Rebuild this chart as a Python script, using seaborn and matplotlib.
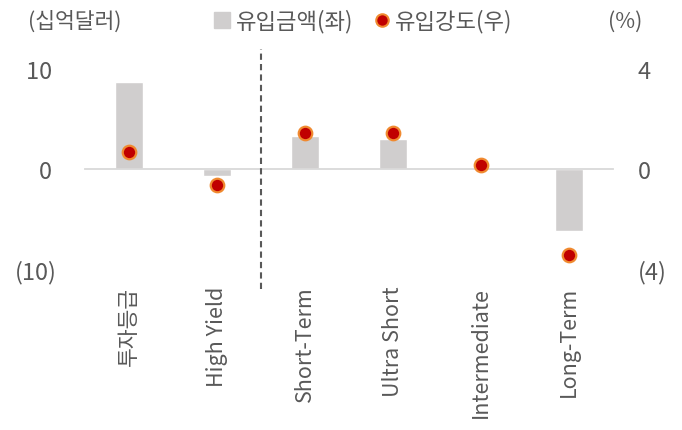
import numpy as np
import pandas as pd
import matplotlib
matplotlib.use('Agg')
import matplotlib.pyplot as plt
import seaborn as sns
from matplotlib.lines import Line2D

# Dados
categorias = ['투자등급', 'High Yield', 'Short-Term', 'Ultra Short', 'Intermediate', 'Long-Term']
fluxo = [8.7, -0.7, 3.3, 3.0, 0.05, -6.2]          # 유입금액(좌), 십억달러
intensidade = [0.67, -0.64, 1.43, 1.43, 0.16, -3.44]  # 유입강도(우), %

df = pd.DataFrame({'cat': categorias, 'fluxo': fluxo, 'intens': intensidade})

sns.set_style('white')
plt.rcParams['font.family'] = ['Noto Sans CJK KR', 'DejaVu Sans']
plt.rcParams['font.weight'] = 'light'

cinza_txt = '#595959'
cor_barra = '#D0CECE'
cor_ponto = '#C00000'
cor_borda = '#F08A30'

fig = plt.figure(figsize=(6.82, 4.31), dpi=100)
ax = fig.add_axes([85 / 682, 1 - 270 / 431, 528 / 682, 200 / 431])

sns.barplot(data=df, x='cat', y='fluxo', color=cor_barra, width=0.32,
            saturation=1, ax=ax, zorder=2)
ax.set_xlim(-0.5, 5.5)
ax.set_ylim(-10, 10)
ax.set_yticks([-10, 0, 10])
ax.set_yticklabels(['(10)', '0 ', '10 '])
ax.set_xlabel('')
ax.set_ylabel('')

for s in ['top', 'right', 'left']:
    ax.spines[s].set_visible(False)
ax.spines['bottom'].set_position(('data', 0))
ax.spines['bottom'].set_color('#D9D9D9')
ax.spines['bottom'].set_linewidth(1.3)

ax.set_xticks(np.arange(-0.5, 6, 1), minor=True)
ax.tick_params(axis='x', which='minor', length=6, width=1.3, color='#D9D9D9', direction='out')
ax.tick_params(axis='x', which='major', length=0, pad=84, labelsize=15.5,
               labelcolor=cinza_txt, rotation=90)
ax.tick_params(axis='y', length=0, pad=20, labelsize=17, labelcolor=cinza_txt)

# linha tracejada separando grupos
ax.axvline(1.5, ymin=-0.1, ymax=1.1, color='#595959', lw=1.5,
           linestyle=(0, (3, 2)), clip_on=False, zorder=3)

ax2 = ax.twinx()
sns.scatterplot(data=df, x='cat', y='intens', ax=ax2, s=95, color=cor_ponto,
                edgecolor=cor_borda, linewidth=1.6, zorder=4)
ax2.set_ylim(-4, 4)
ax2.set_yticks([-4, 0, 4])
ax2.set_yticklabels(['(4)', '0', '4'])
ax2.set_ylabel('')
for s in ax2.spines.values():
    s.set_visible(False)
ax2.tick_params(axis='y', length=0, pad=18, labelsize=17, labelcolor=cinza_txt)

# unidades
fig.text(75 / 682, 1 - 22 / 431, '(십억달러)', ha='center', va='center',
         fontsize=15.5, color=cinza_txt)
fig.text(625 / 682, 1 - 22 / 431, '(%)', ha='center', va='center',
         fontsize=15.5, color=cinza_txt)

# legenda
handles = [
    Line2D([], [], marker='s', linestyle='', color=cor_barra, markersize=11),
    Line2D([], [], marker='o', linestyle='', markerfacecolor=cor_ponto,
           markeredgecolor=cor_borda, markeredgewidth=1.5, markersize=9),
]
leg = fig.legend(handles, ['유입금액(좌)', '유입강도(우)'], loc='center',
                 bbox_to_anchor=(362 / 682, 1 - 22 / 431), ncol=2, frameon=False,
                 fontsize=16, handletextpad=0.1, columnspacing=0.8, handlelength=1.0)
for t in leg.get_texts():
    t.set_color(cinza_txt)

fig.savefig('out.png', dpi=100)
